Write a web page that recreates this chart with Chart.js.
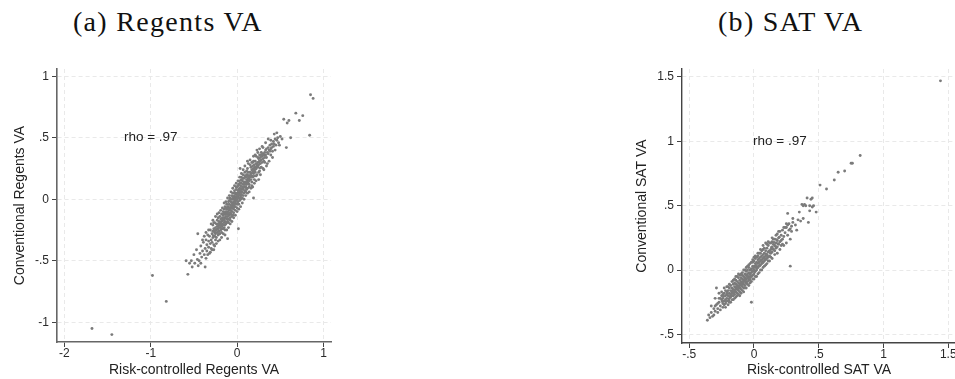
<!DOCTYPE html>
<html>
<head>
<meta charset="utf-8">
<script src="https://cdn.jsdelivr.net/npm/chart.js@4/dist/chart.umd.min.js"></script>
<style>
  html, body { margin:0; padding:0; background:#fff; }
  body { width:955px; height:379px; overflow:hidden; position:relative; }
  .ttl { position:absolute; top:8px; font-family:"Liberation Serif", "Times New Roman", serif; font-size:28px; line-height:28px; letter-spacing:1.3px; color:#111; white-space:nowrap; }
  canvas { position:absolute; top:60px; }
</style>
</head>
<body>
<div class="ttl" style="left:73px">(a) Regents VA</div>
<div class="ttl" style="left:718px">(b) SAT VA</div>
<canvas id="c1" width="345" height="319" style="left:0px"></canvas>
<canvas id="c2" width="345" height="319" style="left:620px"></canvas>
<script>
// ---------- data ----------
const regentsPoints = [
[-1.68,-1.05],[-1.45,-1.10],[-0.98,-0.62],[-0.82,-0.83],
[-0.59,-0.50],[-0.57,-0.61],[-0.55,-0.52],[-0.53,-0.50],[-0.52,-0.55],[-0.50,-0.45],[-0.49,-0.52],[-0.47,-0.41],[-0.46,-0.49],[-0.455,-0.28],[-0.45,-0.54],[-0.44,-0.50],[-0.43,-0.44],[-0.42,-0.38],[-0.41,-0.47],[-0.40,-0.42],[-0.39,-0.35],[-0.38,-0.45],[-0.37,-0.55],[-0.37,-0.40],[-0.36,-0.27],[-0.36,-0.33],[-0.35,-0.42],[-0.35,-0.37],[-0.34,-0.29],[-0.33,-0.39],[-0.33,-0.34],[-0.32,-0.44],[-0.32,-0.30],[-0.31,-0.36],[-0.31,-0.25],[-0.30,-0.33],[-0.30,-0.40],[-0.29,-0.28],[-0.29,-0.35],[-0.28,-0.21],[-0.28,-0.31],[-0.28,-0.26],[-0.27,-0.37],[-0.27,-0.41],[-0.27,-0.24],[-0.26,-0.30],[-0.26,-0.27],[-0.26,-0.19],[-0.25,-0.33],[-0.25,-0.23],[-0.25,-0.28],[-0.24,-0.20],[-0.24,-0.31],[-0.24,-0.25],[-0.23,-0.27],[-0.23,-0.17],[-0.23,-0.22],[-0.22,-0.29],[-0.22,-0.24],[-0.22,-0.15],[-0.21,-0.21],[-0.21,-0.26],[-0.21,-0.18],[-0.20,-0.23],[-0.20,-0.28],[-0.20,-0.14],[-0.20,-0.19],[-0.19,-0.25],[-0.19,-0.16],[-0.19,-0.21],[-0.18,-0.12],[-0.18,-0.22],[-0.18,-0.18],[-0.18,-0.27],[-0.17,-0.15],[-0.17,-0.20],[-0.17,-0.24],[-0.16,-0.10],[-0.16,-0.17],[-0.16,-0.21],[-0.16,-0.13],[-0.15,-0.19],[-0.15,-0.23],[-0.15,-0.08],[-0.15,-0.15],[-0.14,-0.12],[-0.14,-0.18],[-0.14,-0.25],[-0.14,-0.06],[-0.13,-0.14],[-0.13,-0.10],[-0.13,-0.20],[-0.12,-0.16],[-0.12,-0.08],[-0.12,-0.12],[-0.12,-0.04],[-0.11,-0.18],[-0.11,-0.10],[-0.11,-0.14],[-0.11,-0.32],[-0.10,-0.06],[-0.10,-0.12],[-0.10,-0.02],[-0.10,-0.16],[-0.09,-0.09],[-0.09,-0.13],[-0.09,-0.04],[-0.08,-0.11],[-0.08,-0.07],[-0.08,0.01],[-0.08,-0.15],[-0.07,-0.05],[-0.07,-0.09],[-0.07,-0.02],[-0.07,-0.12],[-0.06,-0.07],[-0.06,0.03],[-0.06,-0.03],[-0.06,-0.10],[-0.05,-0.05],[-0.05,0.00],[-0.05,-0.13],[-0.05,0.05],[-0.04,-0.08],[-0.04,-0.02],[-0.04,0.02],[-0.04,-0.04],[-0.03,0.00],[-0.03,-0.06],[-0.03,0.07],[-0.03,0.03],[-0.02,-0.03],[-0.02,0.01],[-0.02,0.05],[-0.02,-0.09],[-0.01,0.02],[-0.01,-0.01],[-0.01,0.08],[-0.01,0.04],[0.00,0.00],[0.00,0.05],[0.00,-0.04],[0.00,0.10],[0.00,0.02],[0.01,0.03],[0.01,0.07],[0.01,-0.02],[0.015,-0.24],[0.02,0.05],[0.02,0.01],[0.02,0.12],[0.02,0.08],[0.03,0.04],[0.03,0.09],[0.03,-0.01],[0.03,0.15],[0.035,0.25],[0.04,0.06],[0.04,0.11],[0.04,0.02],[0.05,0.08],[0.05,0.13],[0.05,0.04],[0.05,0.18],[0.06,0.10],[0.06,0.06],[0.06,0.15],[0.07,0.12],[0.07,0.08],[0.07,0.03],[0.07,0.20],[0.08,0.10],[0.08,0.14],[0.08,0.17],[0.09,0.12],[0.09,0.07],[0.09,0.22],[0.10,0.14],[0.10,0.10],[0.10,0.18],[0.11,0.16],[0.11,0.12],[0.11,0.08],[0.12,0.15],[0.12,0.20],[0.12,0.31],[0.12,0.25],[0.13,0.13],[0.13,0.17],[0.14,0.19],[0.14,0.15],[0.14,0.10],[0.15,0.18],[0.15,0.22],[0.15,0.28],[0.16,0.16],[0.16,0.21],[0.17,0.19],[0.17,0.24],[0.17,0.14],[0.18,0.22],[0.18,0.27],[0.18,0.18],[0.19,0.25],[0.19,0.21],[0.19,0.31],[0.19,0.01],[0.20,0.23],[0.20,0.19],[0.20,0.28],[0.21,0.26],[0.21,0.22],[0.22,0.29],[0.22,0.25],[0.22,0.35],[0.23,0.40],[0.23,0.27],[0.23,0.20],[0.24,0.30],[0.24,0.26],[0.25,0.33],[0.25,0.28],[0.25,0.22],[0.26,0.31],[0.26,0.36],[0.27,0.29],[0.27,0.34],[0.28,0.32],[0.28,0.26],[0.28,0.38],[0.29,0.35],[0.29,0.30],[0.30,0.33],[0.30,0.37],[0.30,0.25],[0.30,0.42],[0.31,0.36],[0.31,0.31],[0.32,0.38],[0.32,0.34],[0.32,0.30],[0.33,0.40],[0.33,0.36],[0.34,0.34],[0.34,0.41],[0.35,0.38],[0.35,0.29],[0.36,0.42],[0.36,0.37],[0.37,0.40],[0.38,0.44],[0.38,0.39],[0.39,0.41],[0.39,0.36],[0.40,0.45],[0.40,0.42],[0.41,0.39],[0.42,0.47],[0.42,0.43],[0.43,0.45],[0.43,0.53],[0.44,0.49],[0.45,0.44],[0.46,0.48],[0.47,0.50],[0.48,0.46],[0.50,0.51],[0.52,0.49],
[0.54,0.65],[0.58,0.62],[0.60,0.64],[0.57,0.42],[0.62,0.50],[0.68,0.70],[0.72,0.64],[0.76,0.68],[0.85,0.85],[0.88,0.82],[0.84,0.52],
[-0.195,-0.205],[-0.175,-0.175],[-0.155,-0.165],[-0.135,-0.155],[-0.125,-0.105],[-0.105,-0.115],[-0.085,-0.085],[-0.065,-0.055],[-0.045,-0.065],[-0.025,-0.015],[-0.015,-0.035],[0.005,0.025],[0.015,0.045],[0.035,0.065],[0.045,0.035],[0.065,0.085],[0.085,0.125],[0.095,0.095],[0.115,0.135],[0.135,0.165],[0.155,0.195],[0.175,0.215],[0.195,0.235],[0.215,0.245],[0.235,0.285],[0.255,0.305],[0.265,0.255],[-0.235,-0.245],[-0.255,-0.255],[-0.275,-0.295],[-0.215,-0.225],[-0.105,-0.075],[-0.035,-0.045],[0.025,0.035],[0.125,0.185],[0.185,0.245],
[-0.42,-0.52],[-0.40,-0.33],[-0.38,-0.30],[-0.36,-0.48],[-0.34,-0.45],[-0.33,-0.25],[-0.31,-0.43],[-0.30,-0.20],[-0.29,-0.41],[-0.28,-0.17],[-0.27,-0.19],[-0.26,-0.38],[-0.25,-0.14],[-0.24,-0.36],[-0.23,-0.12],[-0.22,-0.34],[-0.21,-0.11],[-0.20,-0.33],[-0.19,-0.09],[-0.18,-0.31],[-0.17,-0.07],[-0.16,-0.28],[-0.15,-0.03],[-0.14,-0.29],[-0.13,-0.02],[-0.12,-0.25],[-0.11,0.01],[-0.10,-0.23],[-0.09,0.03],[-0.08,-0.20],[-0.07,0.06],[-0.06,-0.18],[-0.05,0.09],[-0.04,-0.15],[-0.03,0.11],[-0.02,-0.13],[-0.01,0.13],[0.00,-0.10],[0.01,0.15],[0.02,-0.08],[0.03,0.18],[0.04,-0.06],[0.05,0.21],[0.06,-0.03],[0.07,0.24],[0.08,0.00],[0.09,0.27],[0.10,0.03],[0.11,0.23],[0.12,0.05],[0.13,0.29],[0.14,0.06],[0.15,0.32],[0.16,0.09],[0.17,0.30],[0.18,0.10],[0.19,0.35],[0.20,0.13],[0.21,0.36],[0.22,0.15],[0.24,0.38],[0.25,0.16],[0.26,0.41],[0.27,0.20],[0.29,0.43],[0.31,0.24],[0.33,0.46],[0.34,0.27],[0.36,0.49],[0.37,0.31],[0.39,0.48],[0.41,0.34],[0.44,0.40],[0.46,0.54],[0.49,0.44],
[-0.22,-0.20],[-0.21,-0.28],[-0.19,-0.19],[-0.18,-0.24],[-0.17,-0.12],[-0.16,-0.24],[-0.15,-0.11],[-0.14,-0.21],[-0.13,-0.07],[-0.12,-0.19],[-0.11,-0.06],[-0.10,-0.19],[-0.09,-0.01],[-0.08,-0.17],[-0.07,0.00],[-0.06,-0.14],[-0.05,0.02],[-0.04,-0.11],[-0.03,0.05],[-0.02,-0.06],[-0.01,0.10],[0.00,-0.07],[0.01,0.11],[0.02,-0.04],[0.03,0.13],[0.04,0.00],[0.05,0.16],[0.06,0.01],[0.07,0.17],[0.08,0.05],[0.09,0.19],[0.10,0.06],[0.11,0.20],[0.12,0.09],[0.13,0.22],[0.14,0.12],[0.16,0.26],[0.17,0.11],[0.18,0.30],[0.20,0.16],[0.21,0.31],[0.22,0.19],[0.24,0.34],[0.26,0.23],[0.28,0.36]
];
const satPoints = [
[-0.36,-0.39],[-0.35,-0.35],[-0.34,-0.37],[-0.33,-0.33],[-0.32,-0.36],[-0.31,-0.30],[-0.30,-0.32],[-0.29,-0.14],[-0.29,-0.27],[-0.28,-0.30],[-0.27,-0.25],[-0.27,-0.22],[-0.26,-0.28],[-0.25,-0.23],[-0.25,-0.20],[-0.24,-0.26],[-0.24,-0.22],[-0.23,-0.18],[-0.23,-0.24],[-0.22,-0.20],[-0.22,-0.26],[-0.22,-0.23],[-0.21,-0.17],[-0.21,-0.22],[-0.21,-0.19],[-0.20,-0.24],[-0.20,-0.20],[-0.20,-0.16],[-0.19,-0.18],[-0.19,-0.22],[-0.19,-0.14],[-0.18,-0.19],[-0.18,-0.16],[-0.18,-0.21],[-0.18,-0.12],[-0.17,-0.17],[-0.17,-0.20],[-0.17,-0.14],[-0.16,-0.18],[-0.16,-0.15],[-0.16,-0.11],[-0.16,-0.20],[-0.15,-0.16],[-0.15,-0.13],[-0.15,-0.19],[-0.15,-0.10],[-0.14,-0.14],[-0.14,-0.17],[-0.14,-0.11],[-0.14,-0.08],[-0.13,-0.15],[-0.13,-0.12],[-0.13,-0.18],[-0.13,-0.09],[-0.12,-0.13],[-0.12,-0.10],[-0.12,-0.16],[-0.12,-0.06],[-0.11,-0.11],[-0.11,-0.14],[-0.11,-0.08],[-0.11,-0.20],[-0.10,-0.12],[-0.10,-0.09],[-0.10,-0.06],[-0.10,-0.15],[-0.09,-0.10],[-0.09,-0.07],[-0.09,-0.13],[-0.09,-0.04],[-0.08,-0.08],[-0.08,-0.11],[-0.08,-0.05],[-0.08,-0.14],[-0.07,-0.09],[-0.07,-0.06],[-0.07,-0.03],[-0.07,-0.12],[-0.06,-0.07],[-0.06,-0.04],[-0.06,-0.10],[-0.06,-0.01],[-0.05,-0.06],[-0.05,-0.03],[-0.05,-0.09],[-0.05,0.00],[-0.04,-0.05],[-0.04,-0.02],[-0.04,-0.08],[-0.04,0.02],[-0.03,-0.03],[-0.03,-0.06],[-0.03,0.00],[-0.03,-0.10],[-0.02,-0.02],[-0.02,0.01],[-0.02,-0.05],[-0.02,-0.25],[-0.01,-0.01],[-0.01,0.03],[-0.01,-0.04],[-0.01,0.06],[0.00,0.00],[0.00,0.03],[0.00,-0.03],[0.00,0.07],[0.01,0.02],[0.01,0.05],[0.01,-0.01],[0.01,0.09],[0.02,0.03],[0.02,0.06],[0.02,0.00],[0.03,0.05],[0.03,0.08],[0.03,0.02],[0.03,0.11],[0.04,0.06],[0.04,0.09],[0.04,0.03],[0.05,0.07],[0.05,0.10],[0.05,0.04],[0.05,0.13],[0.06,0.08],[0.06,0.11],[0.06,0.05],[0.07,0.09],[0.07,0.12],[0.07,0.06],[0.07,0.16],[0.08,0.10],[0.08,0.13],[0.08,0.07],[0.09,0.11],[0.09,0.15],[0.09,0.08],[0.10,0.12],[0.10,0.17],[0.10,0.09],[0.11,0.14],[0.11,0.19],[0.11,0.10],[0.12,0.15],[0.12,0.11],[0.12,0.21],[0.13,0.16],[0.13,0.13],[0.14,0.18],[0.14,0.22],[0.14,0.14],[0.15,0.20],[0.15,0.16],[0.16,0.19],[0.16,0.24],[0.17,0.21],[0.17,0.17],[0.18,0.23],[0.18,0.28],[0.19,0.20],[0.19,0.25],[0.20,0.30],[0.20,0.22],[0.21,0.27],[0.22,0.24],[0.22,0.31],[0.23,0.19],[0.24,0.29],[0.25,0.36],[0.25,0.33],[0.26,0.44],[0.26,0.27],[0.27,0.36],[0.28,0.32],[0.28,0.03],[0.29,0.30],[0.30,0.37],[0.32,0.35],[0.34,0.39],[0.36,0.38],[0.37,0.51],[0.38,0.50],[0.40,0.50],[0.41,0.56],[0.42,0.37],[0.43,0.50],[0.44,0.55],[0.45,0.49],[0.46,0.50],[0.48,0.45],[0.51,0.66],[0.56,0.63],[0.62,0.70],[0.65,0.76],[0.70,0.77],[0.75,0.83],[0.76,0.83],[0.82,0.89],[1.44,1.47],
[-0.185,-0.205],[-0.175,-0.185],[-0.165,-0.165],[-0.155,-0.175],[-0.145,-0.155],[-0.135,-0.135],[-0.125,-0.145],[-0.115,-0.125],[-0.105,-0.105],[-0.095,-0.115],[-0.085,-0.095],[-0.075,-0.075],[-0.065,-0.085],[-0.055,-0.045],[-0.045,-0.065],[-0.035,-0.025],[-0.025,-0.045],[-0.015,-0.005],[-0.005,0.015],[0.005,-0.015],[0.015,0.035],[0.025,0.015],[0.035,0.055],[0.045,0.035],[0.055,0.075],[0.065,0.055],[0.075,0.095],[0.085,0.085],[0.095,0.125],[0.105,0.105],[0.115,0.145],[0.125,0.135],[0.135,0.175],[0.145,0.165],[0.155,0.215],[0.165,0.185],[0.175,0.235],[0.185,0.205],[0.195,0.255],[0.21,0.23],[0.23,0.26],[0.24,0.33],[0.27,0.31],[0.29,0.34],[-0.195,-0.235],[-0.205,-0.185],[-0.215,-0.245],[-0.235,-0.205],[-0.245,-0.245],[-0.26,-0.22],[-0.28,-0.26],[-0.30,-0.28],
[-0.33,-0.28],[-0.31,-0.35],[-0.30,-0.22],[-0.28,-0.33],[-0.27,-0.18],[-0.26,-0.31],[-0.25,-0.17],[-0.24,-0.29],[-0.23,-0.14],[-0.22,-0.29],[-0.21,-0.13],[-0.20,-0.27],[-0.19,-0.11],[-0.18,-0.25],[-0.17,-0.09],[-0.16,-0.23],[-0.15,-0.07],[-0.14,-0.21],[-0.13,-0.05],[-0.12,-0.19],[-0.11,-0.04],[-0.10,-0.18],[-0.09,-0.02],[-0.08,-0.17],[-0.07,0.00],[-0.06,-0.14],[-0.05,0.03],[-0.04,-0.12],[-0.03,0.05],[-0.02,-0.09],[-0.01,0.08],[0.00,-0.07],[0.01,0.11],[0.02,-0.05],[0.03,0.13],[0.04,-0.02],[0.05,0.16],[0.06,0.00],[0.07,0.19],[0.08,0.03],[0.09,0.21],[0.10,0.05],[0.11,0.22],[0.12,0.07],[0.13,0.21],[0.14,0.09],[0.15,0.24],[0.16,0.12],[0.17,0.27],[0.18,0.13],[0.19,0.30],[0.20,0.16],[0.22,0.20],[0.23,0.33],[0.25,0.21],[0.26,0.35],[0.28,0.24],[0.30,0.40],[0.33,0.31],[0.35,0.45],[0.38,0.40],[0.39,0.51],[0.43,0.46],[0.45,0.56],
[-0.24,-0.19],[-0.23,-0.27],[-0.22,-0.16],[-0.20,-0.13],[-0.19,-0.25],[-0.17,-0.23],[-0.16,-0.08],[-0.15,-0.22],[-0.14,-0.05],[-0.13,-0.20],[-0.12,-0.03],[-0.11,-0.17],[-0.10,-0.03],[-0.09,-0.16],[-0.08,0.00],[-0.07,-0.14],[-0.06,0.02],[-0.05,-0.11],[-0.04,0.04],[-0.03,-0.08],[-0.02,0.06],[-0.01,-0.07],[0.00,0.10],[0.01,-0.05],[0.02,0.10],[0.03,-0.03],[0.04,0.13],[0.05,0.00],[0.06,0.15],[0.07,0.02],[0.08,0.17],[0.09,0.04],[0.10,0.20],[0.11,0.07],[0.13,0.10],[0.14,0.25],[0.16,0.15],[0.18,0.18],[0.21,0.19]
];

const regentsXTicks = [-2, -1, 0, 1];
const regentsXTickLabels = ['-2', '-1', '0', '1'];
const regentsYTicks = [-1, -0.5, 0, 0.5, 1];
const regentsYTickLabels = ['-1', '-.5', '0', '.5', '1'];
const satXTicks = [-0.5, 0, 0.5, 1, 1.5];
const satXTickLabels = ['-.5', '0', '.5', '1', '1.5'];
const satYTicks = [-0.5, 0, 0.5, 1, 1.5];
const satYTickLabels = ['-.5', '0', '.5', '1', '1.5'];

const regentsXRange = [-2.085, 1.087];
const regentsYRange = [-1.16, 1.059];
const satXRange = [-0.556, 1.56];
const satYRange = [-0.567, 1.562];

const regentsRho = {text: 'rho = .97', x: -1.0, y: 0.5};
const satRho = {text: 'rho = .97', x: 0.2, y: 1.0};

// ---------- drawing ----------
const SANS = '"Liberation Sans", Arial, sans-serif';

const rhoPlugin = {
  id: 'rho',
  afterDatasetsDraw(chart, args, opts) {
    const {ctx, scales} = chart;
    ctx.save();
    ctx.font = '13.5px ' + SANS;
    ctx.fillStyle = '#222';
    ctx.textAlign = 'center';
    ctx.textBaseline = 'middle';
    ctx.fillText(opts.text, scales.x.getPixelForValue(opts.x), scales.y.getPixelForValue(opts.y));
    ctx.restore();
  }
};

function makeChart(id, pts, cfg) {
  const mkTicks = (vals) => (s) => { s.ticks = vals.map(v => ({value: v})); };
  const lab = (vals, labels) => (v) => { const i = vals.indexOf(v); return i >= 0 ? labels[i] : ''; };
  const axisCommon = (vals, labels) => ({
    type: 'linear',
    afterBuildTicks: mkTicks(vals),
    ticks: { callback: lab(vals, labels), font: {family: SANS, size: 12, lineHeight: 1}, color: '#2a2a2a', autoSkip: false, maxRotation: 0 },
    grid: { color: '#e9e9e9', lineWidth: 1, drawTicks: true, tickLength: 5, tickColor: '#444', tickWidth: 1, tickBorderDash: [] },
    border: { display: true, color: cfg.axisColor, width: cfg.axisWidth, dash: [4, 3] }
  });
  const x = axisCommon(cfg.xTicks, cfg.xLabels);
  x.min = cfg.xRange[0]; x.max = cfg.xRange[1];
  x.ticks.padding = 1;
  x.afterFit = (s) => { s.height = cfg.xAxisH; };
  x.title = { display: true, text: cfg.xTitle, font: {family: SANS, size: 14}, color: '#222', padding: {top: 0, bottom: 0.5} };
  const y = axisCommon(cfg.yTicks, cfg.yLabels);
  y.min = cfg.yRange[0]; y.max = cfg.yRange[1];
  y.ticks.padding = 3;
  y.afterFit = (s) => { s.width = cfg.yAxisW; };
  y.title = { display: true, text: cfg.yTitle, font: {family: SANS, size: 14}, color: '#222', padding: {top: cfg.yTitlePad, bottom: 0} };

  return new Chart(document.getElementById(id), {
    type: 'scatter',
    data: { datasets: [{
      data: pts.map(p => ({x: p[0], y: p[1]})),
      pointRadius: 1.45, pointHoverRadius: 1.45,
      backgroundColor: '#7b7b7b', borderWidth: 0, pointBorderWidth: 0
    }]},
    options: {
      responsive: false, animation: false, events: [],
      layout: { padding: { top: 8, right: cfg.padRight, left: 0, bottom: 0 } },
      plugins: { legend: {display: false}, tooltip: {enabled: false}, rho: cfg.rho },
      scales: { x, y }
    },
    plugins: [rhoPlugin]
  });
}

makeChart('c1', regentsPoints, {
  xTicks: regentsXTicks, xLabels: regentsXTickLabels, yTicks: regentsYTicks, yLabels: regentsYTickLabels,
  xRange: regentsXRange, yRange: regentsYRange,
  xTitle: 'Risk-controlled Regents VA', yTitle: 'Conventional Regents VA',
  yAxisW: 57, xAxisH: 37, padRight: 14, yTitlePad: 11.5,
  axisColor: '#666', axisWidth: 1.6, rho: regentsRho
});
makeChart('c2', satPoints, {
  xTicks: satXTicks, xLabels: satXTickLabels, yTicks: satYTicks, yLabels: satYTickLabels,
  xRange: satXRange, yRange: satYRange,
  xTitle: 'Risk-controlled SAT VA', yTitle: 'Conventional SAT VA',
  yAxisW: 62, xAxisH: 36, padRight: 9, yTitlePad: 13.6,
  axisColor: '#444', axisWidth: 1.4, rho: satRho
});
</script>
</body>
</html>
